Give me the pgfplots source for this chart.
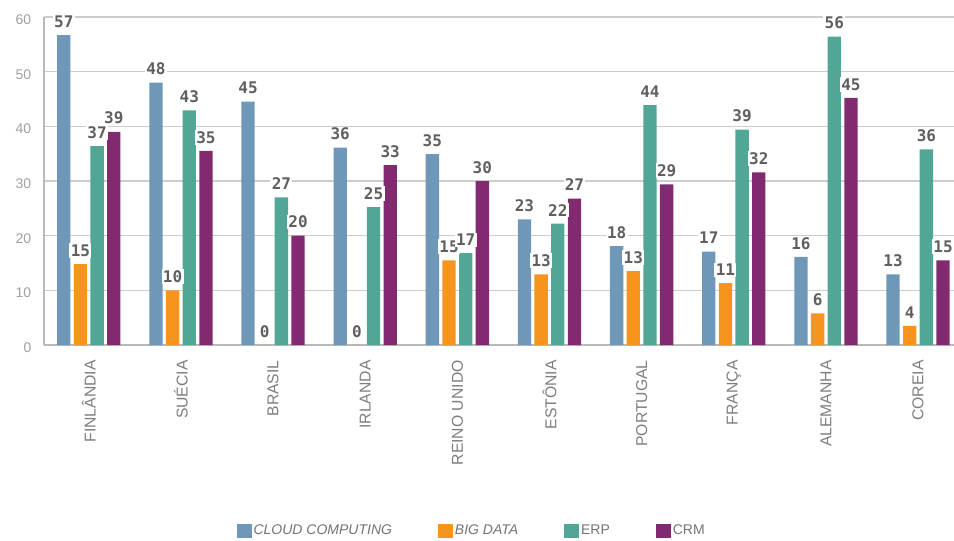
\documentclass[border=0pt]{standalone}
\usepackage{fontspec}
\setmainfont{Liberation Sans}
\newfontfamily\labfont{DejaVu Sans Mono}
\usepackage{pgfplots}
\pgfplotsset{compat=1.18}
\definecolor{ccloud}{RGB}{111,151,184}
\definecolor{cbig}{RGB}{247,148,29}
\definecolor{cerp}{RGB}{82,166,150}
\definecolor{ccrm}{RGB}{130,42,112}
\definecolor{gridc}{RGB}{204,204,204}
\definecolor{axisc}{RGB}{185,185,185}
\definecolor{tickc}{RGB}{160,160,160}
\definecolor{catc}{RGB}{125,125,125}
\definecolor{labc}{RGB}{95,95,95}
\definecolor{legc}{RGB}{115,115,115}
\begin{document}
\begin{tikzpicture}
\begin{axis}[
  width=682.5pt, height=246pt, scale only axis,
  xmin=-0.486, xmax=9.39, ymin=0, ymax=60,
  ybar=2.5pt, bar width=10pt,
  clip=false,
  axis x line*=bottom, axis y line*=left,
  axis line style={axisc, line width=0.8pt, -},
  ytick={0,10,...,60},
  ymajorgrids, grid style={gridc, line width=0.8pt},
  major tick length=0pt,
  xtick={0,...,9},
  xticklabels={FINLÂNDIA,SUÉCIA,BRASIL,IRLANDA,REINO UNIDO,ESTÔNIA,PORTUGAL,FRANÇA,ALEMANHA,COREIA},
  xticklabel style={font=\fontsize{11.8}{13}\selectfont, text=catc, yshift=-8pt, rotate=90, anchor=east},
  yticklabel style={font=\fontsize{10.5}{12}\selectfont, text=tickc, xshift=-6pt, yshift=-2pt},
  /pgf/number format/assume math mode=true,
  point meta=explicit,
  nodes near coords={\pgfmathprintnumber[fixed,precision=0]{\pgfplotspointmeta}},
  every node near coord/.append style={font=\labfont\bfseries\fontsize{12}{13}\selectfont, text=labc, fill=white, inner sep=1pt, anchor=south, yshift=4.5pt},
  legend style={draw=none, fill=none, legend columns=4, at={(0.47,-0.567)}, anchor=center, font=\fontsize{10.5}{12}\selectfont, text=legc, nodes={inner sep=1.5pt}, /tikz/every even column/.append style={column sep=33pt}},
  legend image code/.code={\fill[#1] (0pt,-4.9pt) rectangle (11.2pt,4.9pt);},
]
\addplot[fill=ccloud, draw=none] coordinates {(0,56.7)[57] (1,48.0)[48] (2,44.5)[45] (3,36.1)[36] (4,34.9)[35] (5,23.0)[23] (6,18.1)[18] (7,17.1)[17] (8,16.1)[16] (9,12.9)[13]};
\addplot[fill=cbig, draw=none] coordinates {(0,14.8)[15] (1,10.0)[10] (2,0)[0] (3,0)[0] (4,15.5)[15] (5,12.9)[13] (6,13.5)[13] (7,11.3)[11] (8,5.8)[6] (9,3.5)[4]};
\addplot[fill=cerp, draw=none] coordinates {(0,36.4)[37] (1,42.9)[43] (2,27.0)[27] (3,25.2)[25] (4,16.8)[17] (5,22.2)[22] (6,43.9)[44] (7,39.4)[39] (8,56.4)[56] (9,35.8)[36]};
\addplot[fill=ccrm, draw=none] coordinates {(0,39.0)[39] (1,35.5)[35] (2,20.0)[20] (3,32.9)[33] (4,30.0)[30] (5,26.8)[27] (6,29.4)[29] (7,31.6)[32] (8,45.2)[45] (9,15.5)[15]};
\legend{{\itshape CLOUD COMPUTING},{\itshape BIG DATA},ERP,CRM}
\end{axis}
\pgfresetboundingbox
\path (-33pt,-146.25pt) rectangle (682.5pt,258.75pt);
\end{tikzpicture}
\end{document}
